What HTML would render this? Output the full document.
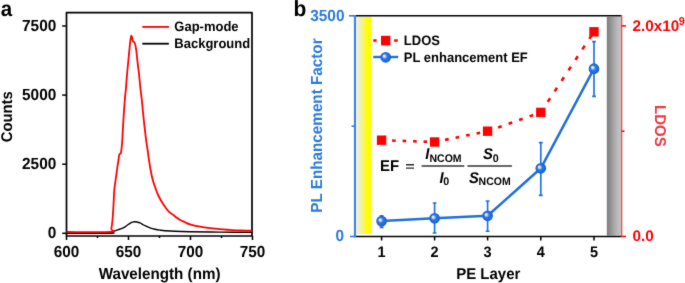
<!DOCTYPE html>
<html><head><meta charset="utf-8"><style>
html,body{margin:0;padding:0;background:#fff;}
svg{display:block;will-change:transform;}
text{font-family:"Liberation Sans",sans-serif;font-weight:bold;text-rendering:geometricPrecision;}
</style></head><body>
<svg width="685" height="283" viewBox="0 0 685 283">
<defs>
<filter id="bl" x="-10" y="-10" width="705" height="303" filterUnits="userSpaceOnUse" color-interpolation-filters="sRGB"><feConvolveMatrix order="3" kernelMatrix="0.015 0.07 0.015 0.07 0.66 0.07 0.015 0.07 0.015" divisor="1" edgeMode="duplicate" preserveAlpha="true"/></filter>
<linearGradient id="yel" x1="0" x2="1" y1="0" y2="0">
<stop offset="0" stop-color="#f0f0e8"/><stop offset="0.22" stop-color="#efefb4"/><stop offset="0.48" stop-color="#f8f860"/><stop offset="0.72" stop-color="#ffff00"/><stop offset="1" stop-color="#ffff00"/>
</linearGradient>
<linearGradient id="gry" x1="0" x2="1" y1="0" y2="0">
<stop offset="0" stop-color="#7c7c7c"/><stop offset="0.75" stop-color="#bababa"/><stop offset="1" stop-color="#c2c2c2"/>
</linearGradient>
<radialGradient id="ball" cx="0.5" cy="0.5" r="0.5" fx="0.33" fy="0.36">
<stop offset="0" stop-color="#ffffff"/><stop offset="0.16" stop-color="#dce9fc"/><stop offset="0.48" stop-color="#2d78e6"/><stop offset="0.85" stop-color="#1b66d6"/><stop offset="1" stop-color="#185ecc"/>
</radialGradient>
</defs>
<g filter="url(#bl)">
<rect x="-10" y="-10" width="705" height="303" fill="#fff"/>

<text transform="translate(0.8,15.5) scale(1,1.05)" font-size="20.5">a</text>
<path d="M66.5,12.7 H252 V236 H66.5 Z" fill="none" stroke="#000" stroke-width="1.7" stroke-linejoin="round"/>
<line x1="62.2" y1="233.3" x2="66.5" y2="233.3" stroke="#000" stroke-width="1.5"/>
<text transform="translate(56.3,238.4) scale(1,1.05)" font-size="15.4" text-anchor="end">0</text>
<line x1="62.2" y1="164.2" x2="66.5" y2="164.2" stroke="#000" stroke-width="1.5"/>
<text transform="translate(56.3,169.3) scale(1,1.05)" font-size="15.4" text-anchor="end">2500</text>
<line x1="62.2" y1="95.1" x2="66.5" y2="95.1" stroke="#000" stroke-width="1.5"/>
<text transform="translate(56.3,100.2) scale(1,1.05)" font-size="15.4" text-anchor="end">5000</text>
<line x1="62.2" y1="26.0" x2="66.5" y2="26.0" stroke="#000" stroke-width="1.5"/>
<text transform="translate(56.3,31.1) scale(1,1.05)" font-size="15.4" text-anchor="end">7500</text>
<line x1="66.5" y1="236" x2="66.5" y2="240" stroke="#000" stroke-width="1.5"/>
<text transform="translate(66.5,257.4) scale(1,1.05)" font-size="15.3" text-anchor="middle">600</text>
<line x1="97.5" y1="236" x2="97.5" y2="238" stroke="#000" stroke-width="1.5"/>
<line x1="128.5" y1="236" x2="128.5" y2="240" stroke="#000" stroke-width="1.5"/>
<text transform="translate(128.5,257.4) scale(1,1.05)" font-size="15.3" text-anchor="middle">650</text>
<line x1="159.5" y1="236" x2="159.5" y2="238" stroke="#000" stroke-width="1.5"/>
<line x1="190.5" y1="236" x2="190.5" y2="240" stroke="#000" stroke-width="1.5"/>
<text transform="translate(190.5,257.4) scale(1,1.05)" font-size="15.3" text-anchor="middle">700</text>
<line x1="221.5" y1="236" x2="221.5" y2="238" stroke="#000" stroke-width="1.5"/>
<line x1="252.5" y1="236" x2="252.5" y2="240" stroke="#000" stroke-width="1.5"/>
<text transform="translate(252.5,257.4) scale(1,1.05)" font-size="15.3" text-anchor="middle">750</text>
<text transform="translate(159.6,279.3) scale(1,1.05)" font-size="15.2" text-anchor="middle">Wavelength (nm)</text>
<text transform="translate(11.5,116.8) rotate(-90) scale(1,1.05)" font-size="14.8" text-anchor="middle">Counts</text>
<path d="M66.50,233.20 C73.80,233.20 102.72,233.32 110.30,233.20 C117.88,233.08 111.33,232.83 112.00,232.50 C112.67,232.17 113.30,231.65 114.30,231.20 C115.30,230.75 116.82,230.22 118.00,229.80 C119.18,229.38 120.43,229.07 121.40,228.70 C122.37,228.33 123.20,227.92 123.80,227.60 C124.40,227.28 124.38,227.23 125.00,226.80 C125.62,226.37 126.67,225.58 127.50,225.00 C128.33,224.42 129.17,223.77 130.00,223.30 C130.83,222.83 131.75,222.47 132.50,222.20 C133.25,221.93 133.75,221.73 134.50,221.70 C135.25,221.67 136.08,221.80 137.00,222.00 C137.92,222.20 139.08,222.52 140.00,222.90 C140.92,223.28 141.67,223.83 142.50,224.30 C143.33,224.77 143.75,225.12 145.00,225.70 C146.25,226.28 148.33,227.22 150.00,227.80 C151.67,228.38 153.33,228.82 155.00,229.20 C156.67,229.58 158.33,229.85 160.00,230.10 C161.67,230.35 162.50,230.50 165.00,230.70 C167.50,230.90 170.83,231.13 175.00,231.30 C179.17,231.47 182.50,231.57 190.00,231.70 C197.50,231.83 209.67,231.98 220.00,232.10 C230.33,232.22 246.67,232.35 252.00,232.40" fill="none" stroke="#000" stroke-width="1.4" stroke-linejoin="round"/>
<path d="M66.50,232.00 C73.80,232.00 102.83,232.50 110.30,232.00 C117.77,231.50 110.93,231.00 111.30,229.00 C111.67,227.00 112.13,224.00 112.50,220.00 C112.87,216.00 113.20,210.00 113.50,205.00 C113.80,200.00 113.95,194.17 114.30,190.00 C114.65,185.83 115.13,183.50 115.60,180.00 C116.07,176.50 116.62,172.33 117.10,169.00 C117.58,165.67 118.13,162.42 118.50,160.00 C118.87,157.58 118.92,155.63 119.30,154.50 C119.68,153.37 120.42,154.28 120.80,153.20 C121.18,152.12 121.35,150.20 121.60,148.00 C121.85,145.80 122.00,144.67 122.30,140.00 C122.60,135.33 122.98,126.67 123.40,120.00 C123.82,113.33 124.40,105.00 124.80,100.00 C125.20,95.00 125.43,94.17 125.80,90.00 C126.17,85.83 126.57,80.00 127.00,75.00 C127.43,70.00 128.00,64.17 128.40,60.00 C128.80,55.83 129.08,53.17 129.40,50.00 C129.72,46.83 130.03,43.17 130.30,41.00 C130.57,38.83 130.82,37.90 131.00,37.00 C131.18,36.10 131.23,35.60 131.40,35.60 C131.57,35.60 131.78,36.17 132.00,37.00 C132.22,37.83 132.42,39.78 132.70,40.60 C132.98,41.42 133.38,41.55 133.70,41.90 C134.02,42.25 134.32,42.10 134.60,42.70 C134.88,43.30 135.12,44.20 135.40,45.50 C135.68,46.80 135.98,48.08 136.30,50.50 C136.62,52.92 136.93,56.75 137.30,60.00 C137.67,63.25 138.12,66.67 138.50,70.00 C138.88,73.33 139.25,76.67 139.60,80.00 C139.95,83.33 140.23,86.67 140.60,90.00 C140.97,93.33 141.27,95.00 141.80,100.00 C142.33,105.00 143.08,113.33 143.80,120.00 C144.52,126.67 145.47,135.00 146.10,140.00 C146.73,145.00 147.12,146.67 147.60,150.00 C148.08,153.33 148.50,156.67 149.00,160.00 C149.50,163.33 149.97,166.67 150.60,170.00 C151.23,173.33 151.88,176.67 152.80,180.00 C153.72,183.33 155.22,187.50 156.10,190.00 C156.98,192.50 157.33,193.33 158.10,195.00 C158.87,196.67 159.75,198.33 160.70,200.00 C161.65,201.67 162.68,203.33 163.80,205.00 C164.92,206.67 166.37,208.73 167.40,210.00 C168.43,211.27 169.00,211.77 170.00,212.60 C171.00,213.43 172.32,214.17 173.40,215.00 C174.48,215.83 175.37,216.77 176.50,217.60 C177.63,218.43 178.78,219.23 180.20,220.00 C181.62,220.77 183.37,221.48 185.00,222.20 C186.63,222.92 187.50,223.57 190.00,224.30 C192.50,225.03 196.67,225.97 200.00,226.60 C203.33,227.23 206.67,227.67 210.00,228.10 C213.33,228.53 216.67,228.90 220.00,229.20 C223.33,229.50 226.67,229.68 230.00,229.90 C233.33,230.12 236.33,230.35 240.00,230.50 C243.67,230.65 250.00,230.75 252.00,230.80" fill="none" stroke="#ff0000" stroke-width="1.8" stroke-linejoin="round"/>
<line x1="142.3" y1="26.9" x2="168.9" y2="26.9" stroke="#ff0000" stroke-width="1.8"/>
<line x1="142.3" y1="43.7" x2="168.9" y2="43.7" stroke="#000" stroke-width="1.8"/>
<text transform="translate(174.3,31) scale(1,1.05)" font-size="13">Gap-mode</text>
<text transform="translate(174.3,47.8) scale(1,1.05)" font-size="13">Background</text>
<text transform="translate(293.4,15.7) scale(1,1.05)" font-size="21">b</text>
<rect x="356.8" y="16.8" width="14.4" height="217.2" fill="url(#yel)"/>
<rect x="606.8" y="16.8" width="14.0" height="218.8" fill="url(#gry)"/>
<line x1="355" y1="15.8" x2="621.5" y2="15.8" stroke="#000" stroke-width="1.6"/>
<line x1="355" y1="236.5" x2="621.5" y2="236.5" stroke="#000" stroke-width="1.6"/>
<line x1="355" y1="15" x2="355" y2="237.3" stroke="#3f86e2" stroke-width="2.2"/>
<line x1="349" y1="15.8" x2="355" y2="15.8" stroke="#2f7de0" stroke-width="1.6"/>
<line x1="351.5" y1="126.2" x2="355" y2="126.2" stroke="#2f7de0" stroke-width="1.6"/>
<line x1="350" y1="236.5" x2="355" y2="236.5" stroke="#2f7de0" stroke-width="1.6"/>
<text transform="translate(344.5,21.1) scale(1,1.05)" font-size="15.4" text-anchor="end" fill="#2b7ae0" color="#2b7ae0">3500</text>
<text transform="translate(344,240.7) scale(1,1.05)" font-size="15.4" text-anchor="end" fill="#2b7ae0" color="#2b7ae0">0</text>
<text transform="translate(322.2,125.55) rotate(-90) scale(1,1.05)" font-size="15.25" text-anchor="middle" fill="#2b7ae0" color="#2b7ae0">PL Enhancement Factor</text>
<line x1="621.6" y1="15" x2="621.6" y2="237.3" stroke="#f04a4a" stroke-width="1.4"/>
<line x1="621.5" y1="25.9" x2="626.0" y2="25.9" stroke="#ff0000" stroke-width="1.5"/>
<line x1="621.5" y1="131.2" x2="624.5" y2="131.2" stroke="#ff0000" stroke-width="1.5"/>
<line x1="621.5" y1="236.4" x2="626.0" y2="236.4" stroke="#ff0000" stroke-width="1.5"/>
<text x="632.4" y="31.3" font-size="15.3" fill="#ff0000" color="#ff0000">2.0x10</text>
<text transform="translate(678.7,24.5) scale(1,1.05)" font-size="11" fill="#ff0000" color="#ff0000">9</text>
<text x="632.4" y="240.7" font-size="15.3" fill="#ff0000" color="#ff0000">0.0</text>
<text transform="translate(654.6,125.9) rotate(90) scale(1,1.05)" font-size="15" text-anchor="middle" fill="#ee3a3f" color="#ee3a3f">LDOS</text>
<line x1="381.6" y1="236.5" x2="381.6" y2="240.5" stroke="#000" stroke-width="1.5"/>
<text transform="translate(381.6,257) scale(1,1.05)" font-size="14.5" text-anchor="middle">1</text>
<line x1="434.6" y1="236.5" x2="434.6" y2="240.5" stroke="#000" stroke-width="1.5"/>
<text transform="translate(434.6,257) scale(1,1.05)" font-size="14.5" text-anchor="middle">2</text>
<line x1="487.6" y1="236.5" x2="487.6" y2="240.5" stroke="#000" stroke-width="1.5"/>
<text transform="translate(487.6,257) scale(1,1.05)" font-size="14.5" text-anchor="middle">3</text>
<line x1="540.8" y1="236.5" x2="540.8" y2="240.5" stroke="#000" stroke-width="1.5"/>
<text transform="translate(540.8,257) scale(1,1.05)" font-size="14.5" text-anchor="middle">4</text>
<line x1="594.0" y1="236.5" x2="594.0" y2="240.5" stroke="#000" stroke-width="1.5"/>
<text transform="translate(594.0,257) scale(1,1.05)" font-size="14.5" text-anchor="middle">5</text>
<text transform="translate(488.25,278.8) scale(1,1.05)" font-size="15" text-anchor="middle">PE Layer</text>
<line x1="381.6" y1="140.2" x2="434.6" y2="142.0" stroke="#ff0000" stroke-width="2.6" stroke-dasharray="3.60,6.90"/>
<line x1="434.6" y1="142.0" x2="487.6" y2="131.2" stroke="#ff0000" stroke-width="2.6" stroke-dasharray="3.67,7.04"/>
<line x1="487.6" y1="131.2" x2="540.8" y2="112.4" stroke="#ff0000" stroke-width="2.6" stroke-dasharray="3.82,7.32"/>
<line x1="540.8" y1="112.4" x2="594.0" y2="31.8" stroke="#ff0000" stroke-width="2.6" stroke-dasharray="4.31,8.27"/>
<rect x="376.9" y="135.5" width="9.4" height="9.4" fill="#ff0000"/>
<rect x="429.9" y="137.3" width="9.4" height="9.4" fill="#ff0000"/>
<rect x="482.9" y="126.5" width="9.4" height="9.4" fill="#ff0000"/>
<rect x="536.1" y="107.7" width="9.4" height="9.4" fill="#ff0000"/>
<rect x="589.3" y="27.1" width="9.4" height="9.4" fill="#ff0000"/>
<polyline points="381.6,221.1 434.6,218.3 487.6,215.8 540.8,168.3 594.0,68.7" fill="none" stroke="#2070dc" stroke-width="2.5" stroke-linejoin="round"/>
<path d="M381.6,215.7 V227.3 M379.70000000000005,215.7 H383.5 M379.70000000000005,227.3 H383.5" stroke="#2070dc" stroke-width="1.65" fill="none"/>
<path d="M434.6,203 V233 M432.70000000000005,203 H436.5 M432.70000000000005,233 H436.5" stroke="#2070dc" stroke-width="1.65" fill="none"/>
<path d="M487.6,201 V231.2 M485.70000000000005,201 H489.5 M485.70000000000005,231.2 H489.5" stroke="#2070dc" stroke-width="1.65" fill="none"/>
<path d="M540.8,142.6 V195.3 M538.9,142.6 H542.6999999999999 M538.9,195.3 H542.6999999999999" stroke="#2070dc" stroke-width="1.65" fill="none"/>
<path d="M594.0,41.6 V96.4 M592.1,41.6 H595.9 M592.1,96.4 H595.9" stroke="#2070dc" stroke-width="1.65" fill="none"/>
<circle cx="381.6" cy="221.1" r="5.35" fill="url(#ball)"/>
<circle cx="434.6" cy="218.3" r="5.35" fill="url(#ball)"/>
<circle cx="487.6" cy="215.8" r="5.35" fill="url(#ball)"/>
<circle cx="540.8" cy="168.3" r="5.35" fill="url(#ball)"/>
<circle cx="594.0" cy="68.7" r="5.35" fill="url(#ball)"/>
<path d="M373.2,40.6 H376.6 M394.1,40.6 H397.7" stroke="#ff0000" stroke-width="2.5"/>
<rect x="381" y="35.8" width="9.4" height="9.6" fill="#ff0000"/>
<line x1="373.2" y1="57" x2="398.2" y2="57" stroke="#2070dc" stroke-width="2.4"/>
<circle cx="385.7" cy="57.3" r="5.4" fill="url(#ball)"/>
<text transform="translate(403.8,44.9) scale(1,1.05)" font-size="13">LDOS</text>
<text transform="translate(403.8,61.5) scale(1,1.05)" font-size="13">PL enhancement EF</text>
<text transform="translate(380,170.5) scale(1,1.05)" font-size="15">EF</text>
<path d="M406,164.7 H414 M406,168.1 H414" stroke="#2a2a2a" stroke-width="1.4"/>
<line x1="421.6" y1="166" x2="464.3" y2="166" stroke="#333" stroke-width="1.3"/>
<line x1="467.4" y1="166" x2="511.9" y2="166" stroke="#333" stroke-width="1.3"/>
<text transform="translate(425.2,158.8) scale(1,1.05)" font-size="14.8" font-style="italic">I</text>
<text transform="translate(429.5,162) scale(1,1.05)" font-size="10.5">NCOM</text>
<text transform="translate(439.5,182.5) scale(1,1.05)" font-size="14.8" font-style="italic">I</text>
<text transform="translate(443.2,185.4) scale(1,1.05)" font-size="10.7">0</text>
<text transform="translate(483,159) scale(1,1.05)" font-size="14.8" font-style="italic">S</text>
<text transform="translate(492.8,162) scale(1,1.05)" font-size="10.7">0</text>
<text transform="translate(469.1,182.5) scale(1,1.05)" font-size="14.8" font-style="italic">S</text>
<text transform="translate(478.6,185.4) scale(1,1.05)" font-size="10.5">NCOM</text>
</g></svg></body></html>
